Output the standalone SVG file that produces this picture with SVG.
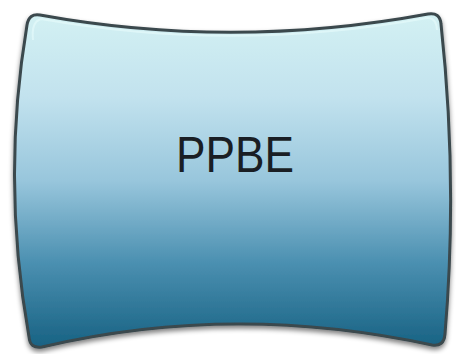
<svg xmlns="http://www.w3.org/2000/svg" width="456" height="354" viewBox="0 0 456 354">
  <defs>
    <linearGradient id="fillGrad" x1="0" y1="0" x2="0" y2="1">
      <stop offset="0" stop-color="#d3f1f3"/>
      <stop offset="0.25" stop-color="#c2e2ee"/>
      <stop offset="0.5" stop-color="#98c6dc"/>
      <stop offset="0.75" stop-color="#4a8fb0"/>
      <stop offset="1" stop-color="#186283"/>
    </linearGradient>
    <filter id="shadow" x="-10%" y="-10%" width="120%" height="125%">
      <feGaussianBlur in="SourceAlpha" stdDeviation="2.5"/>
      <feOffset dx="0" dy="3" result="b"/>
      <feComponentTransfer><feFuncA type="linear" slope="0.5"/></feComponentTransfer>
      <feMerge><feMergeNode/><feMergeNode in="SourceGraphic"/></feMerge>
    </filter>
    <style>
      .shape { fill: url(#fillGrad); stroke: #3b484d; stroke-width: 3; }
      .rim { fill: none; stroke: #e8fbfb; stroke-width: 2; opacity: 0.6; }
      .label { font-family: "Liberation Sans", Arial, sans-serif; font-size: 50px; fill: #1a1e24; text-anchor: middle; }
    </style>
  </defs>
  <g id="node-ppbe">
    <path class="shape" filter="url(#shadow)" d="M 40,15 Q 233,50 428,14 Q 440,12 441,24 Q 458,180 445,334 Q 444,347 432,345 Q 233,302 42,347 Q 30,349 29,337 Q 1,180 27,25 Q 29,13 40,15 Z"/>
    <path class="rim" d="M 33,40 Q 31,22 41,19 Q 233,53 427,18 Q 436,17 437,30"/>
    <text class="label" x="235" y="172" textLength="118" lengthAdjust="spacingAndGlyphs">PPBE</text>
  </g>
</svg>
